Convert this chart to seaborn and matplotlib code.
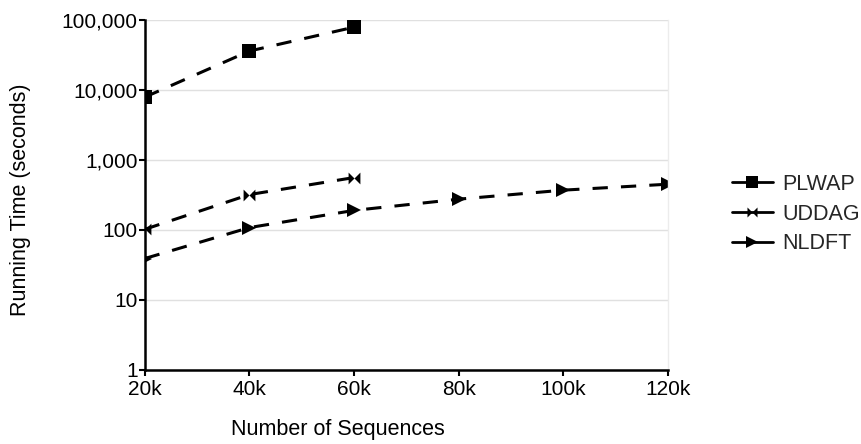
import numpy as np
import pandas as pd
import matplotlib
matplotlib.use("Agg")
import matplotlib.pyplot as plt
from matplotlib.path import Path
from matplotlib.ticker import FuncFormatter, NullLocator
import seaborn as sns

sizes = [20, 40, 60, 80, 100, 120]
x_labels = ['20k', '40k', '60k', '80k', '100k', '120k']

plwap_x = [20, 40, 60]
plwap_y = [7900, 36000, 79000]
uddag_x = [20, 40, 60]
uddag_y = [102, 320, 560]
nldft_x = [20, 40, 60, 80, 100, 120]
nldft_y = [39, 108, 190, 275, 370, 450]

sns.set_theme(style='white')
plt.rcParams['font.family'] = ['Liberation Sans', 'DejaVu Sans']

# bowtie marker: two triangles meeting at the centre
bowtie = Path([(-1, -1), (0, 0), (-1, 1), (-1, -1), (1, 1), (0, 0), (1, -1), (1, 1)],
              [Path.MOVETO, Path.LINETO, Path.LINETO, Path.CLOSEPOLY,
               Path.MOVETO, Path.LINETO, Path.LINETO, Path.CLOSEPOLY])

fig = plt.figure(figsize=(8.62, 4.44), dpi=100)
ax = fig.add_axes([0.168, 0.167, 0.607, 0.788])

dash = (0, (5, 4.3))
lw = 2.2
sns.lineplot(x=plwap_x, y=plwap_y, ax=ax, color='black', linestyle=dash, lw=lw,
             marker='s', markersize=9.5, markeredgewidth=0, label='PLWAP')
sns.lineplot(x=uddag_x, y=uddag_y, ax=ax, color='black', linestyle=dash, lw=lw,
             marker=bowtie, markersize=8.5, markeredgewidth=0, label='UDDAG')
sns.lineplot(x=nldft_x, y=nldft_y, ax=ax, color='black', linestyle=dash, lw=lw,
             marker='>', markersize=10, markeredgewidth=0, label='NLDFT')

ax.set_yscale('log')
ax.set_ylim(1, 100000)
ax.set_xlim(20, 120)
ax.set_xticks(sizes)
ax.set_xticklabels(x_labels)
ax.set_yticks([1, 10, 100, 1000, 10000, 100000])
ax.yaxis.set_minor_locator(NullLocator())
ax.yaxis.set_major_formatter(FuncFormatter(lambda v, p: f'{int(round(v)):,}'))
ax.grid(axis='y', color='#e0e0e0', linewidth=1)
ax.set_axisbelow(True)

ax.spines['top'].set_visible(False)
ax.spines['right'].set_color('#ececec')
ax.spines['right'].set_linewidth(1)
for s in ['left', 'bottom']:
    ax.spines[s].set_color('black')
    ax.spines[s].set_linewidth(1.8)

ax.tick_params(axis='both', which='major', direction='out', length=4, width=1.5,
               color='black', labelsize=15, pad=1, labelcolor='black',
               left=True, bottom=True)
ax.tick_params(axis='x', pad=3)
ax.set_xlabel('Number of Sequences', fontsize=15.5, color='black', va='center')
ax.set_ylabel('Running Time (seconds)', fontsize=15.5, color='black', va='center')
ax.xaxis.set_label_coords(0.369, -0.171)
ax.yaxis.set_label_coords(-0.237, 0.486)

leg = ax.legend(loc='center left', bbox_to_anchor=(0.849, 0.518),
                bbox_transform=fig.transFigure, frameon=False,
                fontsize=15.5, handlelength=1.9, handletextpad=0.45,
                labelspacing=0.4, borderpad=0, borderaxespad=0, markerscale=0.85)
for h in leg.legend_handles:
    h.set_linestyle('-')
    h.set_linewidth(2)

fig.savefig('out.png', dpi=100)
